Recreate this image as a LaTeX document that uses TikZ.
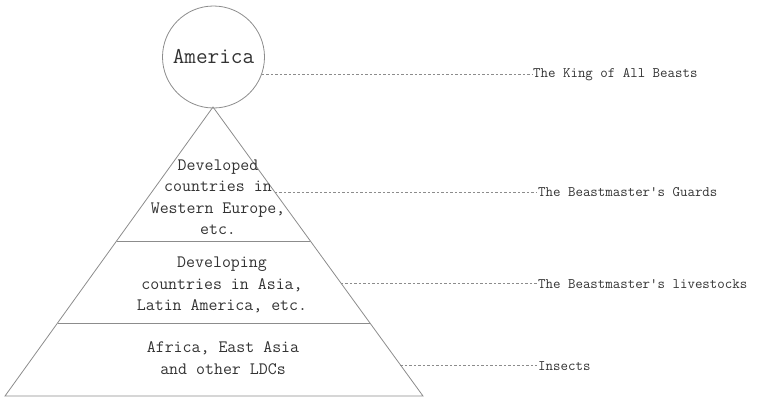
\documentclass[tikz,border=0pt]{standalone}
\usepackage{fontspec}
\usetikzlibrary{calc}
\definecolor{linec}{gray}{0.55}
\definecolor{textc}{gray}{0.2}
\tikzset{
  shapeline/.style={draw=linec, line width=0.8pt},
  leader/.style={draw=linec, line width=0.7pt, dash pattern=on 2.5pt off 2pt},
  tiertext/.style={align=center, text=textc, font=\ttfamily\fontsize{17.4}{21.5}\selectfont, inner sep=0pt},
  sidelabel/.style={anchor=west, text=textc, font=\ttfamily\fontsize{14.5}{15}\selectfont, inner sep=1pt},
}
\begin{document}
\begin{tikzpicture}[x=1pt,y=-1pt]
\useasboundingbox (0,0) rectangle (758,399);
% circle
\node[shapeline, circle, minimum size=102pt, inner sep=0pt, text=textc,
      font=\ttfamily\fontsize{22.6}{24}\selectfont] (america) at (213.5,57) {America};
% triangle
\coordinate (apex) at (213,107);
\coordinate (bl) at (5,396);
\coordinate (br) at (423,396);
\draw[shapeline, line join=miter] (apex) -- (bl) -- (br) -- cycle;
% dividers
\coordinate (d1l) at ($(apex)!0.4637!(bl)$);
\coordinate (d1r) at ($(apex)!0.4637!(br)$);
\coordinate (d2l) at ($(apex)!0.7474!(bl)$);
\coordinate (d2r) at ($(apex)!0.7474!(br)$);
\draw[shapeline] (d1l) -- (d1r);
\draw[shapeline] (d2l) -- (d2r);
% tier texts
\node[tiertext] (t1) at (218,197) {Developed\\countries in\\Western Europe,\\etc.};
\node[tiertext] (t2) at (222,285) {Developing\\countries in Asia,\\Latin America, etc.};
\node[tiertext] (t3) at (223,358) {Africa, East Asia\\and other LDCs};
% side labels
\node[sidelabel] (l1) at (532,75) {The King of All Beasts};
\node[sidelabel] (l2) at (537,192) {The Beastmaster's Guards};
\node[sidelabel] (l3) at (537,284) {The Beastmaster's livestocks};
\node[sidelabel] (l4) at (537,366) {Insects};
% leader anchors
\coordinate (s1) at (america.-20.7);
\coordinate (s2) at ($(apex)!0.2941!(br)$);
\coordinate (s3) at ($(apex)!0.6090!(br)$);
\coordinate (s4) at ($(apex)!0.8927!(br)$);
\draw[leader] (s1) -- (s1 -| l1.west);
\draw[leader] (s2) -- (s2 -| l2.west);
\draw[leader] (s3) -- (s3 -| l3.west);
\draw[leader] (s4) -- (s4 -| l4.west);
\end{tikzpicture}
\end{document}
